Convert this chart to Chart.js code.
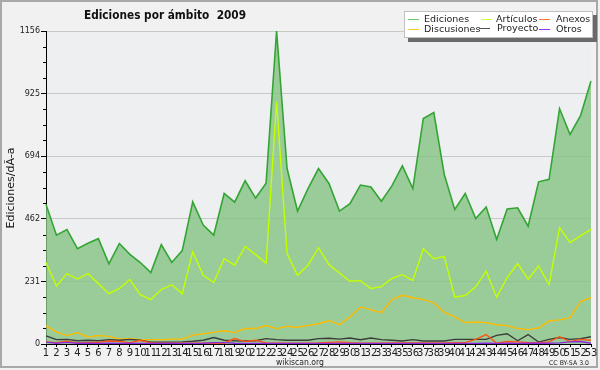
<!DOCTYPE html>
<html lang="es">
<head>
    <meta charset="UTF-8">
    <title>Ediciones por ámbito 2009</title>
    <style>
        body {
            margin: 0;
            background: #ffffff;
        }

        #grafico {
            display: block;
        }
    </style>
</head>
<body>

    <canvas id="grafico" width="600" height="370"></canvas>

    <script src="https://cdn.jsdelivr.net/npm/chart.js"></script>
    <script>
        // semanas del año
        const semanas = [];
        for (let i = 1; i <= 53; i++) semanas.push(String(i));

        const ediciones = [515, 402, 423, 352, 372, 389, 296, 371, 331, 301, 264, 367, 301, 345, 525, 439, 402, 556, 524, 603,
            539, 594, 1156, 648, 491, 574, 648, 593, 491, 518, 587, 580, 527, 584, 658, 574, 833, 855, 626, 497,
            556, 463, 506, 386, 499, 503, 435, 599, 608, 869, 774, 843, 971];
        const articulos = [301, 214, 260, 240, 260, 223, 186, 205, 238, 182, 164, 201, 219, 186, 340, 254, 227, 315, 291, 360,
            330, 298, 895, 334, 254, 291, 355, 293, 262, 232, 234, 205, 212, 242, 256, 235, 352, 315, 323, 173,
            179, 211, 269, 173, 245, 297, 239, 288, 219, 430, 375, 399, 423];
        const discusiones = [67, 44, 31, 42, 26, 31, 28, 18, 20, 16, 16, 16, 18, 18, 33, 38, 43, 49, 42, 57,
            57, 68, 57, 65, 62, 69, 75, 86, 71, 100, 136, 127, 116, 164, 180, 171, 165, 152, 117, 100,
            79, 81, 79, 71, 68, 57, 53, 59, 85, 89, 97, 157, 171];
        const proyecto = [30, 16, 17, 12, 14, 12, 16, 14, 17, 14, 7, 7, 7, 8, 10, 14, 24, 14, 12, 11,
            12, 20, 16, 14, 14, 14, 20, 21, 18, 22, 16, 22, 16, 14, 11, 16, 11, 11, 11, 17,
            17, 17, 17, 32, 38, 12, 35, 7, 17, 24, 17, 20, 27];
        const anexos = [8, 5, 10, 4, 6, 6, 11, 9, 5, 14, 4, 3, 3, 3, 3, 3, 3, 3, 20, 9,
            14, 4, 3, 3, 3, 3, 4, 6, 8, 5, 3, 3, 3, 4, 4, 4, 4, 4, 4, 5,
            5, 17, 35, 3, 9, 8, 5, 5, 8, 27, 9, 17, 14];
        const otros = [7, 3, 6, 3, 3, 2, 3, 2, 3, 2, 2, 2, 2, 2, 2, 3, 5, 5, 3, 2,
            2, 2, 2, 2, 2, 2, 2, 2, 2, 2, 2, 2, 2, 2, 2, 2, 2, 2, 2, 2,
            2, 2, 3, 2, 3, 2, 3, 3, 3, 4, 8, 9, 3];

        const ticksY = [0, 231, 462, 694, 925, 1156];

        const colores = {
            ediciones: '#33a533',
            articulos: '#c4ff00',
            anexos: '#ff5512',
            discusiones: '#ffbb00',
            proyecto: '#3c3c3c',
            otros: '#8a2be2'
        };

        const FUENTE = '"DejaVu Sans", sans-serif';

        function serie(label, data, color, order, extra) {
            return Object.assign({
                label: label,
                data: data,
                borderColor: color,
                borderWidth: 1.4,
                pointRadius: 0,
                tension: 0,
                fill: false,
                order: order
            }, extra || {});
        }

        // fondo, titulo, leyenda y textos fijos
        const decorado = {
            id: 'decorado',
            beforeDraw(chart) {
                const c = chart.ctx;
                const a = chart.chartArea;
                c.save();
                c.fillStyle = '#f1f1f1';
                c.fillRect(0, 0, chart.width, chart.height);
                c.strokeStyle = '#a8a8a8';
                c.lineWidth = 2;
                c.strokeRect(1, 1, 596, 366);
                c.fillStyle = '#eeeff1';
                c.fillRect(a.left, a.top, a.right - a.left, a.bottom - a.top);
                c.restore();
            },
            afterDraw(chart) {
                const c = chart.ctx;
                const y = chart.scales.y;
                const izq = chart.chartArea.left;
                c.save();

                // marcas menores del eje y
                c.strokeStyle = '#000';
                c.lineWidth = 1;
                for (let i = 0; i < ticksY.length - 1; i++) {
                    const paso = (ticksY[i + 1] - ticksY[i]) / 4;
                    for (let k = 1; k < 4; k++) {
                        const py = Math.round(y.getPixelForValue(ticksY[i] + paso * k)) + 0.5;
                        c.beginPath();
                        c.moveTo(izq - 3, py);
                        c.lineTo(izq, py);
                        c.stroke();
                    }
                }

                // titulo
                c.fillStyle = '#111';
                c.font = 'bold 13px ' + FUENTE;
                c.textBaseline = 'alphabetic';
                c.fillText('Ediciones por ámbito  2009', 84, 19, 162);

                // etiqueta eje y
                c.save();
                c.translate(14, 188);
                c.rotate(-Math.PI / 2);
                c.textAlign = 'center';
                c.font = '11px ' + FUENTE;
                c.fillText('Ediciones/dÃ-a', 0, 0);
                c.restore();

                // leyenda
                c.fillStyle = '#6a6a6a';
                c.fillRect(408, 15, 189, 27);
                c.fillStyle = '#ffffff';
                c.fillRect(404, 11, 189, 27);
                c.strokeStyle = '#c0c0c0';
                c.strokeRect(404.5, 11.5, 188, 26);
                const items = [
                    ['Ediciones', '#66cc66', 408, 424, 19],
                    ['Artículos', '#ccff33', 481, 496, 19],
                    ['Anexos', '#ff7733', 539, 556, 19],
                    ['Discusiones', '#ffcc33', 408, 424, 29],
                    ['Proyecto', '#555555', 479, 497, 28],
                    ['Otros', '#9933ff', 539, 556, 29]
                ];
                c.font = '9.5px ' + FUENTE;
                c.textBaseline = 'middle';
                items.forEach(function (it) {
                    c.strokeStyle = it[1];
                    c.beginPath();
                    c.moveTo(it[2], it[4] + 0.5);
                    c.lineTo(it[2] + 11, it[4] + 0.5);
                    c.stroke();
                    c.fillStyle = '#222';
                    c.fillText(it[0], it[3], it[4] + 0.5);
                });

                // pie
                c.textBaseline = 'alphabetic';
                c.fillStyle = '#222';
                c.textAlign = 'center';
                c.font = '8px ' + FUENTE;
                c.fillText('wikiscan.org', 300, 365, 48);
                c.textAlign = 'left';
                c.font = '6.5px ' + FUENTE;
                c.fillText('CC BY-SA 3.0', 549, 365, 40);

                c.restore();
            }
        };

        const ctx = document.getElementById('grafico').getContext('2d');
        const grafico = new Chart(ctx, {
            type: 'line',
            data: {
                labels: semanas,
                datasets: [
                    serie('Ediciones', ediciones, colores.ediciones, 6, {
                        borderWidth: 1.6,
                        fill: 'origin',
                        backgroundColor: 'rgba(132, 195, 131, 0.8)'
                    }),
                    serie('Artículos', articulos, colores.articulos, 5),
                    serie('Discusiones', discusiones, colores.discusiones, 4),
                    serie('Proyecto', proyecto, colores.proyecto, 3),
                    serie('Anexos', anexos, colores.anexos, 2),
                    serie('Otros', otros, colores.otros, 1)
                ]
            },
            options: {
                responsive: false,
                animation: false,
                devicePixelRatio: 1,
                layout: {
                    padding: { top: 31, right: 9, left: 0, bottom: 0 }
                },
                plugins: {
                    legend: { display: false },
                    title: { display: false },
                    tooltip: { enabled: false }
                },
                scales: {
                    x: {
                        type: 'category',
                        offset: false,
                        afterFit: function (s) { s.height = 26; },
                        border: { display: true, color: '#000', width: 1 },
                        grid: {
                            display: true,
                            drawOnChartArea: false,
                            tickLength: 3,
                            tickColor: '#000'
                        },
                        ticks: {
                            autoSkip: false,
                            maxRotation: 0,
                            minRotation: 0,
                            padding: 0,
                            color: '#222',
                            font: { family: FUENTE, size: 10 }
                        }
                    },
                    y: {
                        min: 0,
                        max: 1156,
                        afterFit: function (s) { s.width = 46; },
                        afterBuildTicks: function (s) {
                            s.ticks = ticksY.map(function (v) { return { value: v }; });
                        },
                        border: { display: true, color: '#000', width: 1 },
                        grid: {
                            color: '#c8c8c8',
                            tickColor: '#000',
                            tickLength: 5
                        },
                        ticks: {
                            padding: 1,
                            color: '#222',
                            font: { family: FUENTE, size: 8 },
                            callback: function (v) { return v; }
                        }
                    }
                }
            },
            plugins: [decorado]
        });
    </script>

</body>
</html>
